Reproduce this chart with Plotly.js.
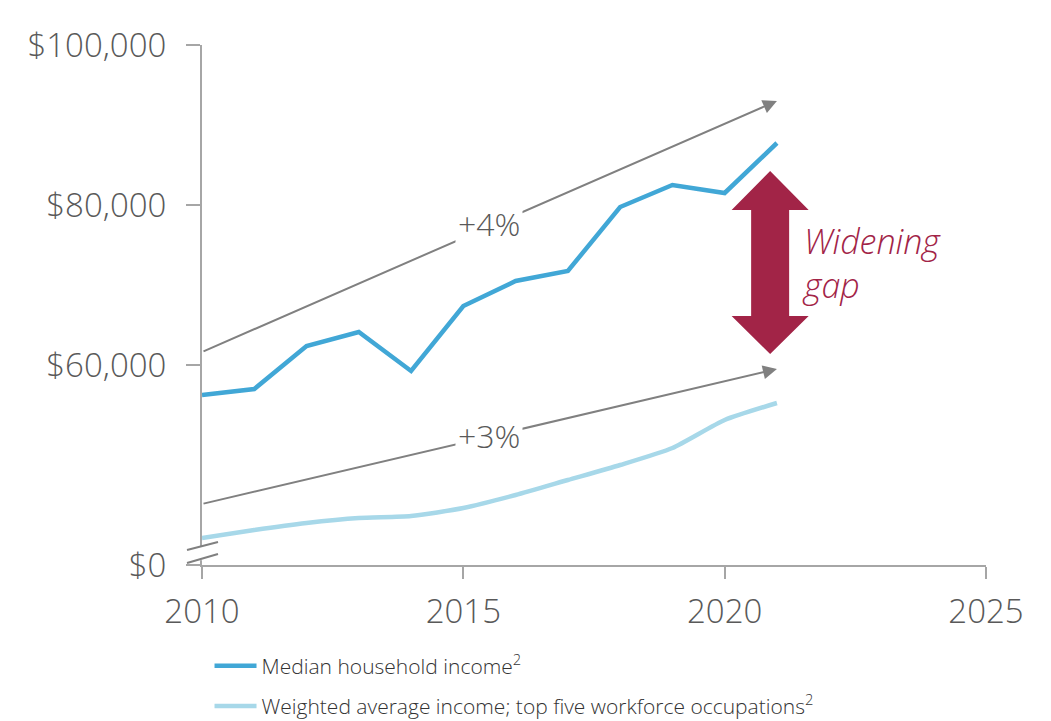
<!DOCTYPE html>
<html>
<head>
<meta charset="utf-8">
<script src="https://cdn.plot.ly/plotly-3.0.1.min.js"></script>
<style>html,body{margin:0;padding:0;background:#fff;}#chart{width:1051px;height:721px;}</style>
</head>
<body>
<div id="chart"></div>
<script>
// Data
const years = [2010, 2011, 2012, 2013, 2014, 2015, 2016, 2017, 2018, 2019, 2020, 2021];
const medianIncome = [56250, 57000, 62375, 64125, 59250, 67375, 70500, 71750, 79750, 82500, 81500, 87750];
const occupationIncome = [38375, 39375, 40250, 40875, 41125, 42125, 43750, 45625, 47500, 49625, 53125, 55250];
const seriesNames = ["Median household income<sup>2</sup>", "Weighted average income; top five workforce occupations<sup>2</sup>"];
const yTickVals = [35000, 60000, 80000, 100000];
const yTickText = ["$0", "$60,000", "$80,000", "$100,000"];
const xTickVals = [2010, 2015, 2020, 2025];
// trend arrows: [startYear, startValue, endYear, endValue, label]
const trend4 = [2010, 61625, 2021, 93000, "+4%"];
const trend3 = [2010, 42625, 2021, 59500, "+3%"];
const labelPos4 = [2015.5, 77750];
const labelPos3 = [2015.5, 51250];
// widening gap arrow (x center, top value, bottom value)
const gapArrow = {x: 2020.87, top: 84250, headTop: 79375, headBottom: 66125, bottom: 61375, half: 0.737, shaft: 0.3635};

const gray = "#595959";
const axisCol = "#A6A6A6";
const arrowCol = "#808080";
const crimson = "#A22447";
const fontFam = "Open Sans, sans-serif";

const traces = [
  {x: years, y: medianIncome, name: seriesNames[0], mode: "lines", type: "scatter",
   line: {color: "#41A7D6", width: 4.5}, legendgroup: "a"},
  {x: years, y: occupationIncome, name: seriesNames[1], mode: "lines", type: "scatter",
   line: {color: "#A7D8E9", width: 4.5, shape: "spline", smoothing: 0.6}, legendgroup: "b"}
];

const g = gapArrow;
const gapPath = `M ${g.x} ${g.top} L ${g.x + g.half} ${g.headTop} L ${g.x + g.shaft} ${g.headTop} ` +
  `L ${g.x + g.shaft} ${g.headBottom} L ${g.x + g.half} ${g.headBottom} L ${g.x} ${g.bottom} ` +
  `L ${g.x - g.half} ${g.headBottom} L ${g.x - g.shaft} ${g.headBottom} L ${g.x - g.shaft} ${g.headTop} ` +
  `L ${g.x - g.half} ${g.headTop} Z`;

function trendArrow(t) {
  return {x: t[2], y: t[3], ax: t[0], ay: t[1], xref: "x", yref: "y", axref: "x", ayref: "y",
    showarrow: true, arrowhead: 2, arrowsize: 1.4, arrowwidth: 2, arrowcolor: arrowCol, text: "", standoff: 0};
}

const tickFont = {family: fontFam, size: 33, color: gray, weight: 300};

const layout = {
  width: 1051, height: 721,
  margin: {l: 202, r: 65, t: 45, b: 156, autoexpand: false},
  paper_bgcolor: "#fff", plot_bgcolor: "#fff",
  font: {family: fontFam, color: gray},
  showlegend: true,
  legend: {x: 0.0096, y: -0.155, xanchor: "left", yanchor: "top", orientation: "v", itemwidth: 42,
    font: {family: fontFam, size: 21, color: "#333", weight: 300}, traceorder: "grouped", tracegroupgap: 10, bgcolor: "rgba(0,0,0,0)"},
  xaxis: {range: [2010, 2025], tickvals: xTickVals, ticks: "outside", ticklen: 12, tickwidth: 2, tickcolor: axisCol,
    showline: true, linecolor: axisCol, linewidth: 2, showgrid: false, zeroline: false,
    tickfont: tickFont, ticklabelstandoff: 4},
  yaxis: {range: [35000, 100000], tickvals: yTickVals, ticktext: yTickText, ticks: "outside", ticklen: 14, tickwidth: 2,
    tickcolor: axisCol, showline: true, linecolor: axisCol, linewidth: 2, showgrid: false, zeroline: false,
    tickfont: tickFont, ticklabelstandoff: 13},
  shapes: [
    {type: "rect", xref: "paper", yref: "y", x0: -0.006, x1: 0.006, y0: 35600, y1: 37300, fillcolor: "#fff", line: {width: 0}, layer: "above"},
    {type: "line", xref: "paper", yref: "y", x0: -0.0191, x1: 0.0204, y0: 36875, y1: 37875, line: {color: arrowCol, width: 2}, layer: "above"},
    {type: "line", xref: "paper", yref: "y", x0: -0.0191, x1: 0.0204, y0: 35250, y1: 36375, line: {color: arrowCol, width: 2}, layer: "above"},
    {type: "path", xref: "x", yref: "y", path: gapPath, fillcolor: crimson, line: {width: 0}, layer: "above"}
  ],
  annotations: [
    trendArrow(trend4), trendArrow(trend3),
    {x: labelPos4[0], y: labelPos4[1], xref: "x", yref: "y", text: trend4[4], showarrow: false, bgcolor: "#fff",
      font: {family: fontFam, size: 32, color: gray, weight: 300}, borderpad: 2},
    {x: labelPos3[0], y: labelPos3[1], xref: "x", yref: "y", text: trend3[4], showarrow: false, bgcolor: "#fff",
      font: {family: fontFam, size: 32, color: gray, weight: 300}, borderpad: 2},
    {x: 2021.44, y: 72700, xref: "x", yref: "y", xanchor: "left", yanchor: "middle", align: "left",
      text: "<i>Widening<br>gap</i>", showarrow: false, font: {family: fontFam, size: 34, color: crimson, weight: 300}}
  ]
};

Plotly.newPlot("chart", traces, layout, {displayModeBar: false, staticPlot: true});
</script>
</body>
</html>
